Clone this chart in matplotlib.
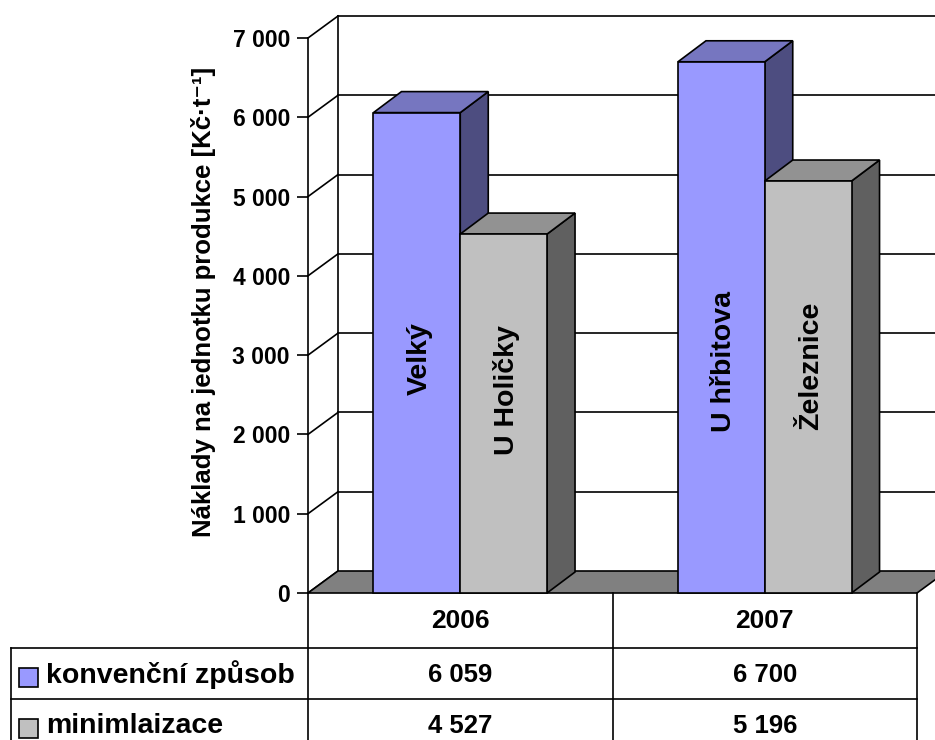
import matplotlib
matplotlib.use("Agg")
import matplotlib.pyplot as plt
from matplotlib.patches import Polygon, Rectangle

# ---- data -------------------------------------------------------------
years = ["2006", "2007"]
series_names = ["konvenční způsob", "minimlaizace"]
konvencni = [6059, 6700]
minimalizace = [4527, 5196]
field_labels_konv = ["Velký", "U hřbitova"]
field_labels_min = ["U Holičky", "Železnice"]
field_label_heights_konv = [2960, 2920]
field_label_heights_min = [2560, 2860]
yticks = [0, 1000, 2000, 3000, 4000, 5000, 6000, 7000]
ylabel = "Náklady na jednotku produkce [Kč·t⁻¹]"

# ---- colours ----------------------------------------------------------
FRONT = ["#9999FF", "#C0C0C0"]
TOP = ["#7676C0", "#929292"]
SIDE = ["#4D4D80", "#606060"]
FLOOR = "#808080"

FONT = ["Liberation Sans", "DejaVu Sans"]
plt.rcParams["font.family"] = FONT
plt.rcParams["font.weight"] = "bold"

W, H, DPI = 935, 740, 100
fig = plt.figure(figsize=(W / DPI, H / DPI), dpi=DPI)
fig.patch.set_facecolor("white")
ax = fig.add_axes([0, 0, 1, 1])
ax.set_facecolor("white")

# front plane of the plot area, in pixels from the top-left corner
x0_px, x2_px = 308, 917
y0_px, ytop_px = 593, 38
ppx = (x2_px - x0_px) / 2.0
ppy = (y0_px - ytop_px) / 7000.0
ax.set_xlim(-x0_px / ppx, 2 + (W - x2_px) / ppx)
ax.set_ylim(-(H - y0_px) / ppy, 7000 + ytop_px / ppy)


def xpx(p):
    return (p - x0_px) / ppx


def ypx(p):
    return (y0_px - p) / ppy


# depth of the walls and of the columns
wdx, wdy = 30 / ppx, 22 / ppy
bdx, bdy = 28 / ppx, 21 / ppy
LW = 1.2
K = "black"

# back wall gridlines and edges
for v in yticks[1:]:
    ax.plot([wdx, 3], [v + wdy, v + wdy], color=K, lw=LW, zorder=1)
ax.plot([wdx, wdx], [wdy, yticks[-1] + wdy], color=K, lw=LW, zorder=1)
# side wall diagonals
for v in yticks:
    ax.plot([0, wdx], [v, v + wdy], color=K, lw=LW, zorder=1)

# floor
ax.add_patch(Polygon([(0, 0), (2, 0), (2 + wdx, wdy), (wdx, wdy)],
                     closed=True, facecolor=FLOOR, edgecolor=K, lw=LW, zorder=2))

# 3-D columns
bw = 0.285
start = 0.215
for i in range(len(years)):
    for j, vals in enumerate([konvencni, minimalizace]):
        v = vals[i]
        left = i + start + j * bw
        right = left + bw
        ax.add_patch(Polygon([(right, 0), (right + bdx, bdy), (right + bdx, v + bdy), (right, v)],
                             closed=True, facecolor=SIDE[j], edgecolor=K, lw=LW, zorder=3))
        ax.add_patch(Polygon([(left, v), (right, v), (right + bdx, v + bdy), (left + bdx, v + bdy)],
                             closed=True, facecolor=TOP[j], edgecolor=K, lw=LW, zorder=3))
        ax.add_patch(Rectangle((left, 0), bw, v, facecolor=FRONT[j], edgecolor=K, lw=LW, zorder=3))

# field names written up the columns
for i in range(len(years)):
    for j, (labels, hts) in enumerate([(field_labels_konv, field_label_heights_konv),
                                       (field_labels_min, field_label_heights_min)]):
        cx = i + start + j * bw + bw / 2 + 0.01
        ax.text(cx, hts[i], labels[i], rotation=90, ha="center", va="center",
                fontsize=20.5, fontweight="bold", zorder=4)

# value axis
for s in ["top", "right", "bottom"]:
    ax.spines[s].set_visible(False)
ax.spines["left"].set_position(("data", 0))
ax.spines["left"].set_bounds(0, yticks[-1])
ax.spines["left"].set_linewidth(LW)
ax.set_xticks([])
ax.set_yticks(yticks)
ax.set_yticklabels([f"{v:,}".replace(",", " ") for v in yticks])
ax.tick_params(axis="y", direction="out", length=8, width=LW, pad=5, labelsize=16.5)
for t in ax.get_yticklabels():
    t.set_fontweight("bold")

fig.text(203 / W, 1 - 302 / H, ylabel, rotation=90, ha="center", va="center",
         fontsize=18.5, fontweight="bold", family=FONT)

# data table under the chart
row_tops = [593, 648, 699, 760]
xl = xpx(11)
ax.plot([0, 0], [ypx(593), ypx(760)], color=K, lw=LW, zorder=5, clip_on=False)
ax.plot([1, 1], [ypx(593), ypx(760)], color=K, lw=LW, zorder=5)
ax.plot([2, 2], [ypx(593), ypx(760)], color=K, lw=LW, zorder=5)
ax.plot([xl, xl], [ypx(648), ypx(760)], color=K, lw=LW, zorder=5)
for r in row_tops[1:3]:
    ax.plot([xl, 2], [ypx(r), ypx(r)], color=K, lw=LW, zorder=5)

for i, yr in enumerate(years):
    ax.text(i + 0.5, ypx(621), yr, ha="center", va="center", fontsize=19, fontweight="bold")
row_centres = [675, 726]
for j, vals in enumerate([konvencni, minimalizace]):
    for i, v in enumerate(vals):
        ax.text(i + 0.5, ypx(row_centres[j]), f"{v:,}".replace(",", " "),
                ha="center", va="center", fontsize=18.5, fontweight="bold")
    ax.add_patch(Rectangle((xpx(19), ypx(row_centres[j] + 12)), 19 / ppx, 19 / ppy,
                           facecolor=FRONT[j], edgecolor=K, lw=LW, zorder=5))
    ax.text(xpx(46), ypx(row_centres[j]), series_names[j], ha="left", va="center",
            fontsize=20.5, fontweight="bold")

fig.savefig("out.png", dpi=DPI, facecolor="white")
